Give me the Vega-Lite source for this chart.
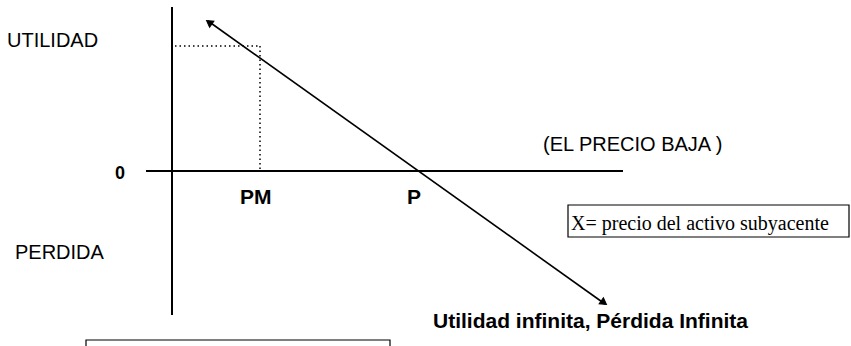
{
  "$schema": "https://vega.github.io/schema/vega-lite/v6.json",
  "width": 851,
  "height": 346,
  "padding": 0,
  "autosize": {"type": "fit", "contains": "padding"},
  "background": "white",
  "config": {"view": {"stroke": null}},
  "datasets": {
    "segments": [
      {"name": "eje vertical", "style": "axis", "x": 0, "y": 164, "x2": 0, "y2": -144},
      {"name": "eje horizontal", "style": "axis", "x": -26, "y": 0, "x2": 451, "y2": 0},
      {"name": "utilidad", "style": "diag", "x": 36, "y": 150, "x2": 433, "y2": -133},
      {"name": "guia h", "style": "dot", "x": 3, "y": 125, "x2": 88, "y2": 125},
      {"name": "guia v", "style": "dot", "x": 88, "y": 125, "x2": 88, "y2": 0}
    ],
    "arrows": [
      {"x": 38, "y": 148, "angle": 305.5},
      {"x": 431, "y": -131, "angle": 125.5}
    ],
    "labels": [
      {"label": "UTILIDAD", "kind": "normal", "x": -165, "y": 130},
      {"label": "PERDIDA", "kind": "normal", "x": -157, "y": -82},
      {"label": "(EL PRECIO BAJA )", "kind": "normal", "x": 371, "y": 26},
      {"label": "0", "kind": "zero", "x": -57, "y": -3},
      {"label": "PM", "kind": "bold", "x": 68, "y": -27},
      {"label": "P", "kind": "bold", "x": 235, "y": -27},
      {"label": "Utilidad infinita, Pérdida Infinita", "kind": "bold", "x": 261, "y": -151},
      {"label": "X= precio del activo subyacente", "kind": "serif", "x": 399, "y": -53}
    ],
    "boxes": [
      {"x": 396, "y": -34, "x2": 677, "y2": -66},
      {"x": -86, "y": -169, "x2": 218, "y2": -200}
    ]
  },
  "layer": [
    {
      "data": {"name": "boxes"},
      "mark": {"type": "rect", "fill": null, "stroke": "black", "strokeWidth": 1.2, "clip": true},
      "encoding": {
        "x": {"field": "x", "type": "quantitative", "scale": {"domain": [-172, 679], "nice": false, "zero": false}, "axis": null},
        "x2": {"field": "x2"},
        "y": {"field": "y", "type": "quantitative", "scale": {"domain": [-175, 171], "nice": false, "zero": false}, "axis": null},
        "y2": {"field": "y2"}
      }
    },
    {
      "data": {"name": "segments"},
      "transform": [{"filter": "datum.style === 'axis'"}],
      "mark": {"type": "rule", "color": "black", "strokeWidth": 2},
      "encoding": {
        "x": {"field": "x", "type": "quantitative"},
        "x2": {"field": "x2"},
        "y": {"field": "y", "type": "quantitative"},
        "y2": {"field": "y2"}
      }
    },
    {
      "data": {"name": "segments"},
      "transform": [{"filter": "datum.style === 'diag'"}],
      "mark": {"type": "rule", "color": "black", "strokeWidth": 1.6},
      "encoding": {
        "x": {"field": "x", "type": "quantitative"},
        "x2": {"field": "x2"},
        "y": {"field": "y", "type": "quantitative"},
        "y2": {"field": "y2"}
      }
    },
    {
      "data": {"name": "segments"},
      "transform": [{"filter": "datum.style === 'dot'"}],
      "mark": {"type": "rule", "color": "black", "strokeWidth": 1.5, "strokeDash": [1.5, 3]},
      "encoding": {
        "x": {"field": "x", "type": "quantitative"},
        "x2": {"field": "x2"},
        "y": {"field": "y", "type": "quantitative"},
        "y2": {"field": "y2"}
      }
    },
    {
      "data": {"name": "arrows"},
      "mark": {"type": "point", "shape": "triangle", "filled": true, "fill": "black", "stroke": "black", "strokeWidth": 1, "size": 55, "opacity": 1},
      "encoding": {
        "x": {"field": "x", "type": "quantitative"},
        "y": {"field": "y", "type": "quantitative"},
        "angle": {"field": "angle", "type": "quantitative", "scale": {"domain": [0, 360], "range": [0, 360]}, "legend": null}
      }
    },
    {
      "data": {"name": "labels"},
      "transform": [{"filter": "datum.kind === 'normal'"}],
      "mark": {"type": "text", "font": "Liberation Sans", "fontSize": 20, "align": "left", "baseline": "middle", "color": "black"},
      "encoding": {
        "x": {"field": "x", "type": "quantitative"},
        "y": {"field": "y", "type": "quantitative"},
        "text": {"field": "label"}
      }
    },
    {
      "data": {"name": "labels"},
      "transform": [{"filter": "datum.kind === 'bold'"}],
      "mark": {"type": "text", "font": "Liberation Sans", "fontSize": 21, "fontWeight": "bold", "align": "left", "baseline": "middle", "color": "black"},
      "encoding": {
        "x": {"field": "x", "type": "quantitative"},
        "y": {"field": "y", "type": "quantitative"},
        "text": {"field": "label"}
      }
    },
    {
      "data": {"name": "labels"},
      "transform": [{"filter": "datum.kind === 'zero'"}],
      "mark": {"type": "text", "font": "Liberation Sans", "fontSize": 18, "fontWeight": "bold", "align": "left", "baseline": "middle", "color": "black"},
      "encoding": {
        "x": {"field": "x", "type": "quantitative"},
        "y": {"field": "y", "type": "quantitative"},
        "text": {"field": "label"}
      }
    },
    {
      "data": {"name": "labels"},
      "transform": [{"filter": "datum.kind === 'serif'"}],
      "mark": {"type": "text", "font": "Liberation Serif", "fontSize": 20, "align": "left", "baseline": "middle", "color": "black"},
      "encoding": {
        "x": {"field": "x", "type": "quantitative"},
        "y": {"field": "y", "type": "quantitative"},
        "text": {"field": "label"}
      }
    }
  ]
}
